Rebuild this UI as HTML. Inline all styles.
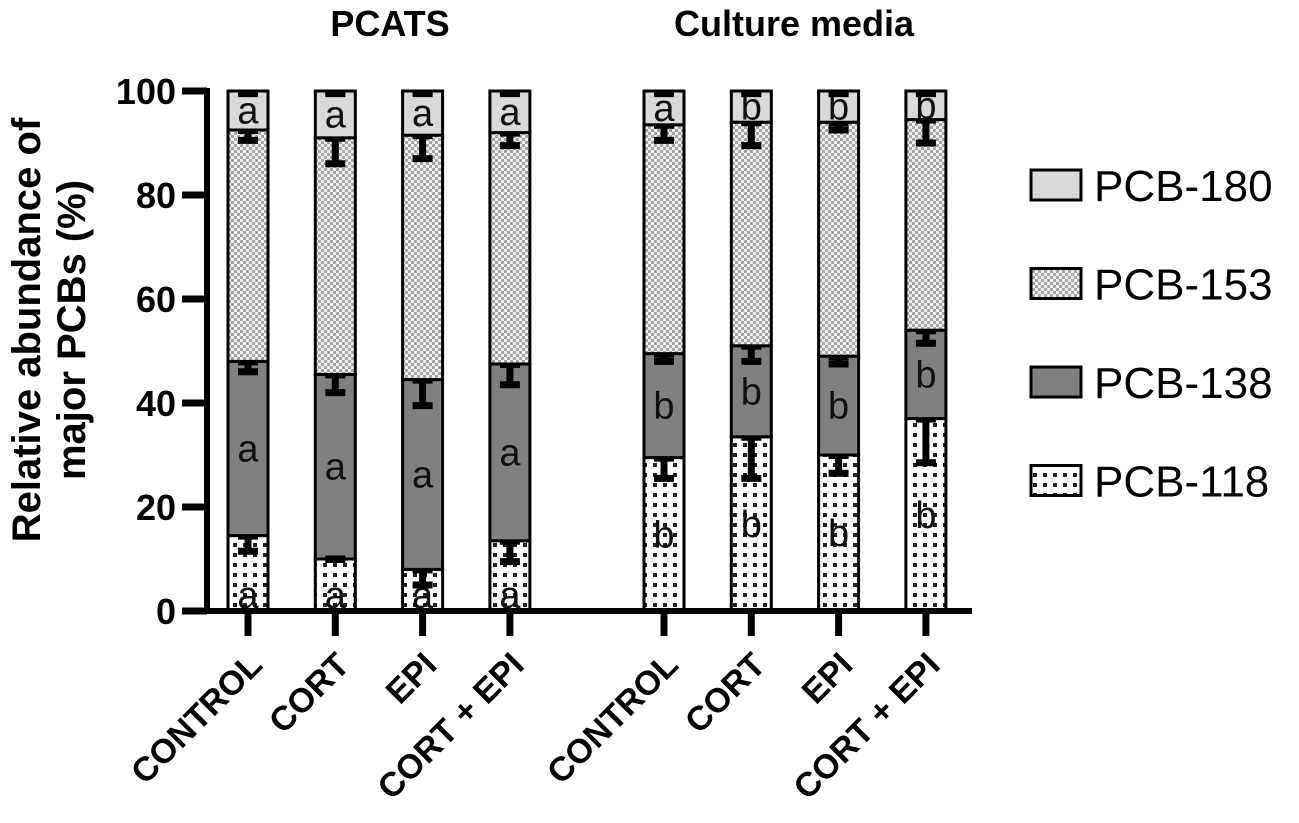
<!DOCTYPE html>
<html><head><meta charset="utf-8"><style>
html,body{margin:0;padding:0;background:#fff;}
svg{display:block;font-family:"Liberation Sans",Arial,sans-serif;}
</style></head><body>
<svg id="chart" width="1299" height="823" viewBox="0 0 1299 823">
<defs>
<pattern id="pDots" width="10" height="10" patternUnits="userSpaceOnUse"><rect width="10" height="10" fill="#fff"/><rect x="3" y="3" width="4" height="4" fill="#222"/></pattern>
<pattern id="pCheck" width="6" height="6" patternUnits="userSpaceOnUse"><rect width="6" height="6" fill="#f0f0f0"/><rect x="0" y="0" width="3" height="3" fill="#a6a6a6"/><rect x="3" y="3" width="3" height="3" fill="#a6a6a6"/></pattern>
</defs>
<g id="plot"></g>
</svg>
<script>
const categories = ["CONTROL","CORT","EPI","CORT + EPI","CONTROL","CORT","EPI","CORT + EPI"];
const groupTitles = ["PCATS","Culture media"];
const seriesNames = ["PCB-118","PCB-138","PCB-153","PCB-180"];
const pcb118 = [14.5,10,8,13.5,29.5,33.5,30,37];
const pcb138 = [33.5,35.5,36.5,34,20,17.5,19,17];
const pcb153 = [44.5,45.5,47,44.5,44,43,45,40.5];
const pcb180 = [7.5,9,8.5,8,6.5,6,6,5.5];
const err118 = [3,0,3,4,4,8,3.5,8.5];
const err138 = [2,3.5,5,4,1.5,3,1.5,2.5];
const err153 = [2,5,4.5,2.5,3,4.5,1.5,4.5];
const err180 = [0.5,0.5,0.5,0.5,0.5,0.5,0.5,0.5];
const letters118 = ["a","a","a","a","b","b","b","b"];
const letters138 = ["a","a","a","a","b","b","b","b"];
const letters180 = ["a","a","a","a","a","b","b","b"];
const yTicks = [0,20,40,60,80,100];

const NS="http://www.w3.org/2000/svg";
const g=document.getElementById('plot');
function el(t,a,p){const e=document.createElementNS(NS,t);for(const k in a)e.setAttribute(k,a[k]);(p||g).appendChild(e);return e;}
const y0=611, pxPer=5.2;
function Y(v){return y0-v*pxPer;}
function X(i){return i<4?248+i*87.3:664+(i-4)*87.3;}
const bw=40;
const fills=["url(#pDots)","#808080","url(#pCheck)","#d9d9d9"];
const vals=[pcb118,pcb138,pcb153,pcb180];
const errs=[err118,err138,err153,err180];
const lets=[letters118,letters138,null,letters180];

categories.forEach((c,i)=>{
  const cx=X(i); let base=0;
  const tops=[];
  for(let s=0;s<4;s++){
    const v=vals[s][i];
    const r=el('rect',{x:cx-bw/2,y:Y(base+v),width:bw,height:v*pxPer,fill:fills[s],stroke:'#000','stroke-width':3});
    
    
    tops.push([base,base+v]);
    base+=v;
  }
  for(let s=0;s<4;s++){
    if(!lets[s])continue;
    const [b,t]=tops[s];
    let ly=(Y(b)+Y(t))/2+13;
    if(s===0&&t<16) ly=Y(0)-3;
    const tx=el('text',{x:cx,y:ly,'text-anchor':'middle','font-size':38,fill:'#111'});
    tx.textContent=lets[s][i];
    
    
  }
  for(let s=0;s<4;s++){
    const top=tops[s][1], e=errs[s][i];
    const eg=el('g',{});
    
    
    el('line',{x1:cx,x2:cx,y1:Y(top),y2:Y(top-e),stroke:'#000','stroke-width':7},eg);
    el('line',{x1:cx-10,x2:cx+10,y1:Y(top-e),y2:Y(top-e),stroke:'#000','stroke-width':7},eg);
    el('line',{x1:cx-10,x2:cx+10,y1:Y(top)+2,y2:Y(top)+2,stroke:'#000','stroke-width':4},eg);
  }
  const tk=el('line',{x1:cx,x2:cx,y1:y0,y2:y0+25,stroke:'#000','stroke-width':7});
  
  
  const lb=el('text',{x:0,y:0,'text-anchor':'end','font-size':34,'font-weight':'bold',transform:`translate(${cx+16},${y0+56}) rotate(-45)`});
  lb.textContent=c;
  
  
});
// axes
const ya=el('line',{x1:207,x2:207,y1:Y(100)-3,y2:y0+3,stroke:'#000','stroke-width':6});


const xa=el('line',{x1:204,x2:972,y1:y0,y2:y0,stroke:'#000','stroke-width':6});


yTicks.forEach(t=>{
  const l=el('line',{x1:182,x2:207,y1:Y(t),y2:Y(t),stroke:'#000','stroke-width':7});
  
  
  const tx=el('text',{x:176,y:Y(t)+13,'text-anchor':'end','font-size':36,'font-weight':'bold'});
  tx.textContent=t;
  
  
});
const yt=el('text',{'text-anchor':'middle','font-size':40,'font-weight':'bold',transform:'translate(40,330) rotate(-90)'});


const t1=el('tspan',{x:0,dy:0},yt);t1.textContent='Relative abundance of';
const t2=el('tspan',{x:0,dy:45},yt);t2.textContent='major PCBs (%)';
[[390,groupTitles[0]],[794,groupTitles[1]]].forEach(([x,t])=>{
  const tx=el('text',{x:x,y:36,'text-anchor':'middle','font-size':36,'font-weight':'bold'});
  tx.textContent=t;
  
  
});
// legend
const legOrder=[3,2,1,0];
legOrder.forEach((s,k)=>{
  const ly=170+k*98.5;
  const lg=el('g',{});
  
  
  el('rect',{x:1031,y:ly,width:50,height:30,fill:fills[s],stroke:'#000','stroke-width':3},lg);
  const tx=el('text',{x:1094,y:ly+31,'font-size':44},lg);
  tx.textContent=seriesNames[s];
});
</script>
</body></html>
